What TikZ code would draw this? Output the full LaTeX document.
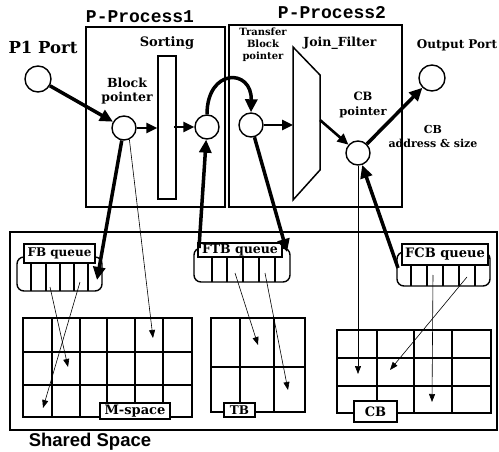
\documentclass[tikz,border=0pt]{standalone}
\usepackage{fontspec}
\setmainfont{DejaVu Serif}
\newfontfamily\monob{Liberation Mono}
\newfontfamily\sansb{Liberation Sans}
\usetikzlibrary{arrows.meta}
\begin{document}
\begin{tikzpicture}[x=1pt,y=-1pt,
  box/.style={draw, line width=1.6pt},
  port/.style={draw, circle, line width=1.4pt, inner sep=0pt},
  thickarr/.style={line width=3.5pt, -{Triangle[length=13pt,width=12pt]}},
  midarr/.style={line width=2.6pt, -{Triangle[length=11pt,width=10pt]}},
  thinarr/.style={line width=0.6pt, -{Triangle[length=8pt,width=6pt]}},
  txt/.style={font=\bfseries\fontsize{#1}{#1}\selectfont, inner sep=0pt, align=center},
  txt/.default=12,
  qlabel/.style={draw, fill=white, line width=1.2pt, inner sep=0pt, font=\bfseries\fontsize{#1}{#1}\selectfont},
  gridline/.style={line width=1.4pt},
  qbox/.style={draw, line width=1.4pt, rounded corners=7pt}
]
\useasboundingbox (0,0) rectangle (499,452);

% process boxes
\draw[box] (86,27) rectangle (225,207);
\draw[box] (229,25) rectangle (402,207);
\node[txt, font=\monob\bfseries\fontsize{18}{18}\selectfont] (pp1) at (140,17) {P-Process1};
\node[txt, font=\monob\bfseries\fontsize{18}{18}\selectfont] (pp2) at (332,13) {P-Process2};

% ports and pointers
\node[port, minimum size=26pt] (p1) at (38,79) {};
\node[txt=16.5] (p1t) at (43,47) {P1 Port};
\node[port, minimum size=24pt] (bp) at (124,128) {};
\node[txt=12.5] (bpt) at (127,91) {Block\\[2pt]pointer};
\node[draw, line width=1.5pt, minimum width=18pt, minimum height=143pt, inner sep=0pt] (sort) at (167,127.5) {};
\node[txt=13] (sortt) at (167,43) {Sorting};
\node[port, minimum size=24pt] (c2) at (207,127) {};
\node[port, minimum size=24pt] (c3) at (251,125) {};
\node[txt=10] (tbt) at (263,45) {Transfer\\[2pt]Block\\[2pt]pointer};
\draw[line width=1.5pt] (293,47) -- (320,75) -- (320,170) -- (293,200) -- cycle;
\node[txt=12.5] (jft) at (340,43) {Join\_Filter};
\coordinate (trapL) at (293,125);
\coordinate (trapR) at (320,120);
\node[port, minimum size=24pt] (cb) at (358,153) {};
\node[txt=11.5] (cbt) at (363,105) {CB\\[3pt]pointer};
\node[port, minimum size=26pt] (out) at (432,78) {};
\node[txt=12] (outt) at (457,45) {Output Port};
\node[txt=11] (cbat) at (433,136) {CB\\[3pt]address \& size};

% shared space
\draw[box] (10,232) rectangle (497,430);
\node[txt, font=\sansb\bfseries\fontsize{18.5}{18.5}\selectfont] (sst) at (90,442) {Shared Space};

% FB queue
\draw[qbox] (17,257) rectangle (102,291);
\foreach \x in {31,46,60,74,88} \draw[line width=1.3pt] (\x,262) -- (\x,291);
\node[qlabel=12, minimum width=71pt, minimum height=19pt] (fbq) at (59.5,253.5) {FB queue};

% FTB queue
\draw[qbox] (194,248) rectangle (290,282);
\foreach \x in {212,227,243,259,275} \draw[line width=1.3pt] (\x,256) -- (\x,282);
\node[qlabel=12.5, minimum width=84pt, minimum height=14pt] (ftbq) at (240,250) {FTB queue};

% FCB queue
\draw[qbox] (397,252) rectangle (490,286);
\foreach \x in {411,427,443,459,475} \draw[line width=1.3pt] (\x,264) -- (\x,286);
\node[qlabel=13, minimum width=86pt, minimum height=21pt] (fcbq) at (445,254.5) {FCB queue};

% M-space grid
\draw[gridline] (23,318) rectangle (192,417);
\foreach \x in {52,80,107,135,163} \draw[gridline] (\x,318) -- (\x,417);
\foreach \y in {352,385} \draw[gridline] (23,\y) -- (192,\y);
\node[qlabel=13, minimum width=70pt, minimum height=16pt] (msp) at (135,411) {M-space};

% TB grid
\draw[gridline] (211,318) rectangle (305,412);
\foreach \x in {240,274} \draw[gridline] (\x,318) -- (\x,412);
\draw[gridline] (211,367) -- (305,367);
\node[qlabel=12, minimum width=31pt, minimum height=14pt] (tbl) at (239.5,410) {TB};

% CB grid
\draw[gridline] (337,330) rectangle (491,413);
\foreach \x in {377,414,452} \draw[gridline] (\x,330) -- (\x,413);
\foreach \y in {358,386} \draw[gridline] (337,\y) -- (491,\y);
\node[qlabel=13, minimum width=43pt, minimum height=21pt] (cbl) at (375.5,411.5) {CB};

% coordinates
\coordinate (fbin) at (97,280);
\coordinate (ms1) at (153,338);
\coordinate (ftbL) at (199,248);
\coordinate (ftbR) at (287,252);
\coordinate (cbg) at (358,374);
\coordinate (fcbL) at (398,268);
\coordinate (fb1) at (50,287);  \coordinate (fb1e) at (68,367);
\coordinate (fb2) at (80,282);  \coordinate (fb2e) at (43,408);
\coordinate (ftb1) at (235,273); \coordinate (ftb1e) at (258,345);
\coordinate (ftb2) at (265,273); \coordinate (ftb2e) at (288,390);
\coordinate (fcb1) at (433,275); \coordinate (fcb1e) at (432,402);
\coordinate (fcb2) at (467,277); \coordinate (fcb2e) at (390,370);

% connectors
\draw[thickarr] (p1) -- (bp);
\draw[midarr] (bp) -- (sort.west |- bp);
\draw[midarr] ([xshift=-3pt]sort.east |- c2) -- (c2);
\draw[thickarr] (c2.north) .. controls (207,68) and (252,68) .. (c3.north);
\draw[midarr] (c3) -- (trapL);
\draw[midarr] (trapR) -- (cb);
\draw[thickarr] (cb) -- (out);
\draw[thickarr] (bp) -- (fbin);
\draw[thinarr] (bp.-65) -- (ms1);
\draw[thickarr] (ftbL) -- (c2);
\draw[thickarr] (c3) -- (ftbR);
\draw[thinarr] (cb.south) -- (cbg);
\draw[thickarr] (fcbL) -- (cb);
\draw[thinarr] (fb1) -- (fb1e);
\draw[thinarr] (fb2) -- (fb2e);
\draw[thinarr] (ftb1) -- (ftb1e);
\draw[thinarr] (ftb2) -- (ftb2e);
\draw[thinarr] (fcb1) -- (fcb1e);
\draw[thinarr] (fcb2) -- (fcb2e);
\end{tikzpicture}
\end{document}
